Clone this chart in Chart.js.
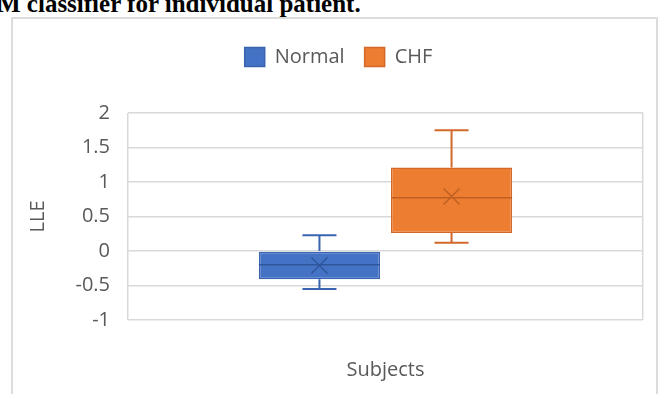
<!DOCTYPE html>
<html>
<head>
<meta charset="utf-8">
<script src="https://cdn.jsdelivr.net/npm/chart.js@4.4.1/dist/chart.umd.min.js"></script>
<style>
  html, body { margin: 0; padding: 0; background: #fff; overflow: hidden; width: 662px; height: 394px; }
  #caption { position: absolute; left: -3px; top: -10px; font: bold 25px "Liberation Serif", serif; color: #000; white-space: nowrap; }
  #frame { position: absolute; left: 11px; top: 17px; width: 647px; height: 420px; border: 2px solid #dcdcdc; box-sizing: border-box; }
  #wrap { position: absolute; left: 0; top: 0; width: 677px; height: 394px; }
</style>
</head>
<body>
<div id="caption">M classifier for individual patient.</div>
<div id="frame"></div>
<div id="wrap"><canvas id="myChart" width="677" height="394"></canvas></div>
<script>
// box plot values (LLE)
const series = ['Normal', 'CHF'];
const whiskerLow = [-0.55, 0.12];
const q1 = [-0.41, 0.26];
const median = [-0.20, 0.77];
const mean = [-0.21, 0.79];
const q3 = [0.0, 1.21];
const whiskerHigh = [0.23, 1.75];

const yMin = -1;
const yMax = 2;
const yStep = 0.5;

const fills = ['#4472c4', '#ed7d31'];
const edges = ['#3a64b0', '#d2692a'];
const inner = ['#2f569c', '#c05f22'];
const textColor = '#595959';
const gridColor = '#d9d9d9';
const font = { family: '"Open Sans", sans-serif', size: 20 };

// whiskers, median line and mean cross on top of the floating bars
const boxExtras = {
  id: 'boxExtras',
  afterDatasetsDraw(chart) {
    const ctx = chart.ctx;
    const y = chart.scales.y;
    ctx.save();
    series.forEach((name, i) => {
      const bar = chart.getDatasetMeta(i).data[0];
      const x = bar.x;
      const half = bar.width / 2;
      const cap = 17;
      ctx.strokeStyle = edges[i];
      ctx.lineWidth = 2;
      ctx.beginPath();
      ctx.moveTo(x, y.getPixelForValue(q3[i]));
      ctx.lineTo(x, y.getPixelForValue(whiskerHigh[i]));
      ctx.moveTo(x - cap, y.getPixelForValue(whiskerHigh[i]));
      ctx.lineTo(x + cap, y.getPixelForValue(whiskerHigh[i]));
      ctx.moveTo(x, y.getPixelForValue(q1[i]));
      ctx.lineTo(x, y.getPixelForValue(whiskerLow[i]));
      ctx.moveTo(x - cap, y.getPixelForValue(whiskerLow[i]));
      ctx.lineTo(x + cap, y.getPixelForValue(whiskerLow[i]));
      ctx.stroke();

      ctx.strokeStyle = inner[i];
      ctx.lineWidth = 1.5;
      ctx.beginPath();
      const my = y.getPixelForValue(median[i]);
      ctx.moveTo(x - half, my);
      ctx.lineTo(x + half, my);
      const ay = y.getPixelForValue(mean[i]);
      const s = 8;
      ctx.moveTo(x - s, ay - s);
      ctx.lineTo(x + s, ay + s);
      ctx.moveTo(x - s, ay + s);
      ctx.lineTo(x + s, ay - s);
      ctx.stroke();
    });
    ctx.restore();
  }
};

// extra room between legend and plot
const legendGap = {
  id: 'legendGap',
  beforeLayout(chart) {
    const legend = chart.legend;
    if (legend && !legend._gapPatched) {
      const fit = legend.fit;
      legend.fit = function () { fit.call(this); this.height += 36; };
      legend._gapPatched = true;
    }
  }
};

const ctx = document.getElementById('myChart').getContext('2d');

new Chart(ctx, {
  type: 'bar',
  data: {
    labels: [''],
    datasets: series.map((name, i) => ({
      label: name,
      data: [[q1[i], q3[i]]],
      backgroundColor: fills[i],
      borderColor: edges[i],
      borderWidth: 1.5,
      borderSkipped: false,
      categoryPercentage: 0.513,
      barPercentage: 0.917
    }))
  },
  options: {
    responsive: false,
    animation: false,
    layout: { padding: { top: 27, left: 0, right: 0, bottom: 0 } },
    plugins: {
      tooltip: { enabled: false },
      legend: {
        position: 'top',
        labels: { color: textColor, font: font, boxWidth: 20, boxHeight: 19, padding: 20 }
      }
    },
    scales: {
      x: {
        offset: true,
        grid: { display: true, offset: true, color: gridColor, lineWidth: 1.5, drawTicks: false },
        border: { display: false },
        ticks: { display: false },
        title: { display: true, text: 'Subjects', color: textColor, font: font, padding: { top: 0, bottom: 12 } },
        afterFit: s => { s.height = 74; }
      },
      y: {
        min: yMin,
        max: yMax,
        ticks: { stepSize: yStep, padding: 18, color: textColor, font: font, callback: v => String(v) },
        grid: { color: gridColor, lineWidth: 1.5, drawTicks: false },
        border: { display: false },
        title: { display: true, text: 'LLE', color: textColor, font: font, padding: { top: 26, bottom: 0 } },
        afterFit: s => { s.width = 128; }
      },
      yr: {
        position: 'right',
        grid: { display: false },
        ticks: { display: false },
        border: { display: false },
        afterFit: s => { s.width = 34; }
      }
    }
  },
  plugins: [boxExtras, legendGap]
});
</script>
</body>
</html>
